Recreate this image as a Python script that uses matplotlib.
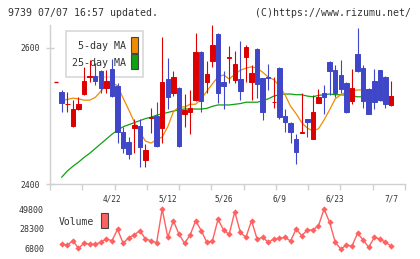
import numpy as np
import matplotlib
matplotlib.use("Agg")
import matplotlib.pyplot as plt
import matplotlib.transforms as mtransforms
from matplotlib.patches import Rectangle

# ---------------------------------------------------------------------------
# Data
# ---------------------------------------------------------------------------
opens = [2535, 2517, 2485, 2510, 2532, 2557, 2558, 2566, 2541, 2569,
         2544, 2477, 2462, 2482, 2485, 2435, 2497, 2500, 2482, 2554,
         2534, 2541, 2503, 2506, 2523, 2594, 2549, 2580, 2620, 2550,
         2585, 2553, 2554, 2587, 2550, 2598, 2555, 2557, 2520, 2570,
         2500, 2490, 2466, 2475, 2495, 2466, 2519, 2534, 2579, 2567,
         2560, 2548, 2522, 2591, 2570, 2540, 2551, 2567, 2557, 2516]
highs = [2538, 2535, 2523, 2527, 2572, 2582, 2577, 2568, 2568, 2583,
         2548, 2484, 2469, 2496, 2495, 2459, 2512, 2521, 2616, 2585,
         2566, 2542, 2532, 2538, 2622, 2595, 2581, 2633, 2621, 2566,
         2602, 2595, 2610, 2604, 2575, 2599, 2556, 2576, 2557, 2571,
         2510, 2491, 2473, 2533, 2496, 2531, 2540, 2545, 2580, 2575,
         2582, 2549, 2569, 2629, 2575, 2541, 2569, 2568, 2558, 2551]
lows = [2506, 2506, 2484, 2509, 2530, 2550, 2545, 2534, 2534, 2528,
        2460, 2445, 2437, 2445, 2425, 2425, 2475, 2455, 2460, 2510,
        2529, 2455, 2484, 2474, 2522, 2505, 2534, 2572, 2519, 2510,
        2548, 2548, 2523, 2550, 2523, 2526, 2494, 2538, 2512, 2496,
        2477, 2460, 2430, 2475, 2469, 2466, 2519, 2503, 2531, 2527,
        2534, 2504, 2518, 2565, 2512, 2502, 2510, 2522, 2512, 2515]
closes = [2519, 2518, 2510, 2517, 2551, 2558, 2551, 2541, 2551, 2529,
          2477, 2453, 2444, 2487, 2455, 2450, 2499, 2456, 2549, 2528,
          2557, 2456, 2508, 2512, 2594, 2522, 2561, 2604, 2534, 2544,
          2586, 2576, 2537, 2601, 2563, 2546, 2506, 2556, 2521, 2499,
          2491, 2477, 2447, 2476, 2491, 2506, 2528, 2528, 2566, 2534,
          2539, 2505, 2541, 2566, 2522, 2503, 2521, 2523, 2517, 2529]

ma5 = [2523, 2524, 2526, 2525, 2523, 2523, 2527, 2536, 2545, 2549,
       2544, 2526, 2509, 2491, 2476, 2463, 2460, 2465, 2469, 2484,
       2506, 2513, 2513, 2517, 2517, 2525, 2536, 2547, 2557, 2560,
       2554, 2561, 2567, 2570, 2572, 2570, 2564, 2557, 2553, 2544,
       2531, 2514, 2503, 2490, 2482, 2478, 2481, 2494, 2509, 2525,
       2531, 2535, 2537, 2538, 2538, 2536, 2534, 2531, 2529, 2528]
ma25 = [2410, 2419, 2426, 2432, 2439, 2445, 2452, 2459, 2466, 2473,
        2479, 2484, 2487, 2490, 2493, 2496, 2498, 2501, 2503, 2505,
        2507, 2509, 2510, 2510, 2510, 2510, 2511, 2514, 2516, 2516,
        2516, 2517, 2518, 2520, 2520, 2520, 2522, 2525, 2529, 2531,
        2532, 2532, 2531, 2531, 2529, 2528, 2530, 2531, 2532, 2531,
        2531, 2530, 2529, 2528, 2528, 2526, 2524, 2523, 2521, 2520]

volume = [11200, 10400, 15100, 6800, 12300, 11200, 11200, 13400, 17000, 15100,
          27600, 12300, 18400, 21400, 26100, 17000, 15100, 12900, 49800, 18800,
          37000, 22400, 12300, 21400, 37000, 26100, 13400, 14800, 38500, 26800,
          22100, 46800, 24300, 18800, 37000, 17000, 18800, 13400, 17000, 17700,
          18800, 14800, 27900, 20600, 26800, 26800, 31500, 49800, 35200, 13400,
          6000, 10400, 9300, 23200, 15900, 7900, 18800, 17000, 13400, 9300]

prev_price = 2550          # stray previous-day marker at the left edge
date_labels = ["4/22", "5/12", "5/26", "6/9", "6/23", "7/7"]
date_idx = [9, 19, 29, 39, 49, 59]
price_ticks = [2400, 2600]
vol_ticks = [6800, 28300, 49800]

# ---------------------------------------------------------------------------
# Style
# ---------------------------------------------------------------------------
W, H = 420, 259
FONT = "DejaVu Sans Mono"
RED = "#dd0000"
BLUE = "#3f47c8"
ORANGE = "#f08c00"
GREEN = "#10a010"
VOLC = "#ff6060"
AXC = "#d0d0d0"
TXT = "#333333"


def fx(x):
    return x / W


def fy(y):
    return 1 - y / H


fig = plt.figure(figsize=(W / 100, H / 100), dpi=100)
ax = fig.add_axes([fx(50), fy(184), (405 - 50) / W, (184 - 25) / H])
axv = fig.add_axes([fx(50), fy(252), (405 - 50) / W, (252 - 203) / H])

n = len(closes)
idx = np.arange(n)
xlim = (-2.1, 61.5)

# ---------------------------------------------------------------------------
# Price panel
# ---------------------------------------------------------------------------
ft = fig.transFigure
ax.add_patch(Rectangle((fx(65.5), fy(77)), fx(143 - 65.5), (77 - 30.5) / H,
                       transform=ft, facecolor="white", edgecolor="#d8d8d8",
                       lw=1.2, zorder=0.5, clip_on=False))
ax.text(fx(126), fy(46), "5-day MA", transform=ft, ha="right", va="center",
        fontsize=7.2, family=FONT, color=TXT, zorder=0.6)
ax.text(fx(126), fy(63.3), "25-day MA", transform=ft, ha="right", va="center",
        fontsize=7.2, family=FONT, color=TXT, zorder=0.6)
ax.add_patch(Rectangle((fx(131), fy(52.7)), 6.7 / W, 15.4 / H, transform=ft,
                       facecolor=ORANGE, edgecolor="#444444", lw=0.8,
                       zorder=0.6, clip_on=False))
ax.add_patch(Rectangle((fx(131), fy(69.3)), 6.7 / W, 15.3 / H, transform=ft,
                       facecolor=GREEN, edgecolor="#444444", lw=0.8,
                       zorder=0.6, clip_on=False))

ax.plot(idx, ma25, color=GREEN, lw=0.9, zorder=1)
ax.plot(idx, ma5, color=ORANGE, lw=0.9, zorder=1)

o = np.array(opens)
c = np.array(closes)
cols = [RED if cc >= oo else BLUE for oo, cc in zip(o, c)]
ax.vlines(idx, lows, highs, colors=cols, lw=0.8, zorder=2)
ax.bar(idx, np.abs(c - o), bottom=np.minimum(o, c), width=0.8,
       color=cols, edgecolor=cols, linewidth=0.7, zorder=3)
ax.hlines(prev_price, -1.4, -0.6, colors=RED, lw=1.0, zorder=3)

ax.set_xlim(*xlim)
ax.set_ylim(2400, 2633.3)
for s in ["top", "right"]:
    ax.spines[s].set_visible(False)
for s in ["left", "bottom"]:
    ax.spines[s].set_color(AXC)
    ax.spines[s].set_linewidth(1.0)
ax.set_yticks(price_ticks)
ax.set_yticklabels([str(t) for t in price_ticks], fontsize=5.8,
                   family=FONT, color=TXT)
ax.tick_params(axis="y", direction="inout", length=5.8, width=1.0,
               color=AXC, pad=4.1)
ax.set_xticks(np.linspace(xlim[0], xlim[1], 12))
ax.set_xticklabels([])
ax.tick_params(axis="x", direction="out", length=4.3, width=1.0, color=AXC)

blend = mtransforms.blended_transform_factory(ax.transData, ft)
for lab, i in zip(date_labels, date_idx):
    ax.text(i, fy(198.5), lab, transform=blend, ha="center", va="center",
            fontsize=5.6, family=FONT, color=TXT, clip_on=False)

# ---------------------------------------------------------------------------
# Volume panel
# ---------------------------------------------------------------------------
axv.plot(idx, volume, color=VOLC, lw=1.0, marker="D", markersize=3.2,
         markeredgewidth=0, zorder=2)
axv.set_xlim(*xlim)
axv.set_ylim(2750, 56400)
for s in axv.spines.values():
    s.set_visible(False)
axv.set_xticks([])
axv.set_yticks(vol_ticks)
axv.set_yticklabels([str(t) for t in vol_ticks], fontsize=6, family=FONT,
                    color=TXT)
axv.tick_params(axis="y", length=0, pad=4.3)
axv.patch.set_alpha(0)

fig.text(fx(58.3), fy(222.3), "Volume", ha="left", va="center", fontsize=7,
         family=FONT, color=TXT)
fig.patches.append(Rectangle((fx(101), fy(228.3)), 6.7 / W, 15 / H,
                             transform=ft, facecolor=VOLC,
                             edgecolor="#444444", lw=0.8))

# ---------------------------------------------------------------------------
# Header
# ---------------------------------------------------------------------------
fig.text(fx(8), fy(12.5), "9739 07/07 16:57 updated.", ha="left",
         va="center", fontsize=7.1, family=FONT, color=TXT)
fig.text(fx(411), fy(12.5), "(C)https://www.rizumu.net/", ha="right",
         va="center", fontsize=7.1, family=FONT, color=TXT)

fig.savefig("out.png", dpi=100)
